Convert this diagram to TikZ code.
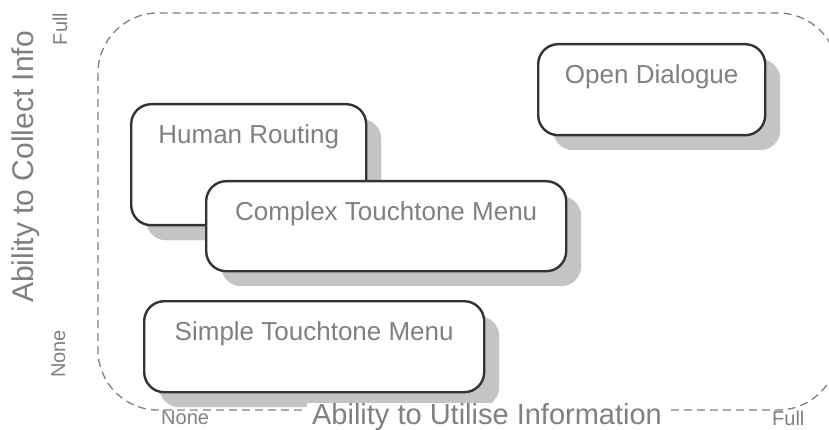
\documentclass[tikz,border=0pt]{standalone}
\usepackage{fontspec}
\setmainfont{Liberation Sans}
\usetikzlibrary{shadows}

\definecolor{labelgray}{RGB}{128,128,128}
\definecolor{edgegray}{RGB}{51,51,51}
\definecolor{shadegray}{RGB}{196,196,196}

\begin{document}
\begin{tikzpicture}[x=1pt,y=-1pt,
    menubox/.style={draw=edgegray, line width=2.4pt, fill=white, rounded corners=20pt,
      anchor=north west, align=center, inner xsep=0pt, inner ysep=20.7pt,
      text height=18.6pt, text depth=#1, text=labelgray,
      font=\fontsize{26}{30}\selectfont,
      drop shadow={shadow xshift=15pt, shadow yshift=-15pt, fill=shadegray, opacity=1}},
    frame/.style={draw=labelgray, line width=1.3pt, dash pattern=on 8pt off 5pt, rounded corners=60pt}]

        \useasboundingbox (0,0) rectangle (829,430);

        % dashed outline round the chart area
        \draw[frame] (98,13) rectangle (838,410);

        \begin{scope}[every node/.style={menubox=31pt}]
          \node[menubox=61pt, minimum width=235pt] (human)   at (130,103) {Human Routing};
          \node[text depth=30pt, minimum width=360pt] (complex) at (205,180) {Complex Touchtone Menu};
          \node[minimum width=227pt] (open)    at (537,43)  {Open Dialogue};
          \node[minimum width=340pt] (simple)  at (143,300) {Simple Touchtone Menu};
        \end{scope}

        \begin{scope}[every node/.style={text=labelgray, inner sep=0pt}]
          % vertical axis
          \node[font=\fontsize{30}{36}\selectfont, rotate=90, anchor=base] (collect) at (33,167) {Ability to Collect Info};
          \node[font=\fontsize{20}{24}\selectfont, rotate=90, anchor=base] (yfull)   at (67,29)  {Full};
          \node[font=\fontsize{20}{24}\selectfont, rotate=90, anchor=base] (ynone)   at (65,354) {None};
          % horizontal axis
          \node[font=\fontsize{29}{34}\selectfont, anchor=base, fill=white, inner xsep=5pt] (utilise) at (487,424) {Ability to Utilise Information};
          \node[font=\fontsize{20}{24}\selectfont, anchor=base west] (xnone) at (161,424) {None};
          \node[font=\fontsize{20}{24}\selectfont, anchor=base west] (xfull) at (772,425) {Full};
        \end{scope}

      \end{tikzpicture}
\end{document}
